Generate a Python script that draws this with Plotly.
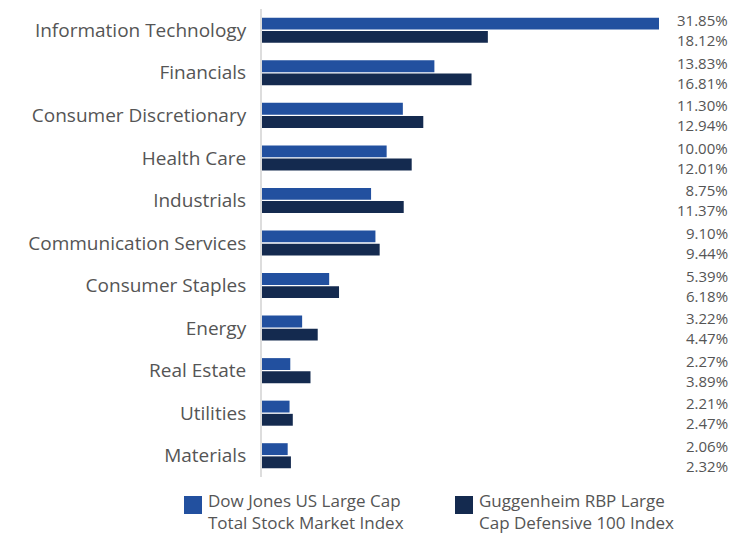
import plotly.graph_objects as go

categories = ["Information Technology", "Financials", "Consumer Discretionary", "Health Care",
              "Industrials", "Communication Services", "Consumer Staples", "Energy",
              "Real Estate", "Utilities", "Materials"]
dow_jones = [31.85, 13.83, 11.30, 10.00, 8.75, 9.10, 5.39, 3.22, 2.27, 2.21, 2.06]
guggenheim = [18.12, 16.81, 12.94, 12.01, 11.37, 9.44, 6.18, 4.47, 3.89, 2.47, 2.32]
series_names = ["Dow Jones US Large Cap<br>Total Stock Market Index",
                "Guggenheim RBP Large<br>Cap Defensive 100 Index"]
colors = ["#22509F", "#142A4F"]

FONT = "Open Sans"
TXT = "#555555"

# plot area geometry (pixels) used to place legend in paper coordinates
L, R, T, B = 262, 659, 9, 477
W, H = R - L, B - T


def px_x(px):
    return (px - L) / W


def px_y(py):
    return (B - py) / H


fig = go.Figure()
for vals, name, col in zip([dow_jones, guggenheim], series_names, colors):
    fig.add_trace(go.Bar(y=categories, x=vals, orientation="h", marker_color=col,
                         marker_line_width=0, showlegend=False, name=name))

annotations = []
for cat, a, b in zip(categories, dow_jones, guggenheim):
    annotations.append(dict(x=px_x(729), xref="paper", y=cat, yref="y",
                            text=f"{a:.2f}%<br>{b:.2f}%", showarrow=False, xanchor="right",
                            yanchor="middle", align="right", borderpad=0,
                            font=dict(family=FONT, size=15, color=TXT)))

shapes = []
legend_pos = [(184, 207), (455, 478)]
for (sx, tx), name, col in zip(legend_pos, series_names, colors):
    shapes.append(dict(type="rect", xref="paper", yref="paper",
                       x0=px_x(sx), x1=px_x(sx + 18), y0=px_y(514), y1=px_y(496),
                       fillcolor=col, line_width=0))
    annotations.append(dict(x=px_x(tx), xref="paper", y=px_y(535), yref="paper",
                            text=name, showarrow=False, xanchor="left", yanchor="bottom",
                            align="left", borderpad=0,
                            font=dict(family=FONT, size=17, color=TXT)))

fig.update_layout(
    width=741, height=536,
    margin=dict(l=L, r=741 - R, t=T, b=536 - B, autoexpand=False),
    paper_bgcolor="white", plot_bgcolor="white",
    barmode="group", bargap=0.38, bargroupgap=0.1,
    font=dict(family=FONT, color=TXT),
    showlegend=False,
    xaxis=dict(range=[0, 31.85], visible=False, fixedrange=True),
    yaxis=dict(autorange="reversed", showline=True, linecolor="#DDDDDD", linewidth=2,
               ticks="", ticklabelstandoff=10, showgrid=False, automargin=False,
               tickfont=dict(family=FONT, size=19, color=TXT)),
    annotations=annotations,
    shapes=shapes,
)

fig.write_html("out.html")
